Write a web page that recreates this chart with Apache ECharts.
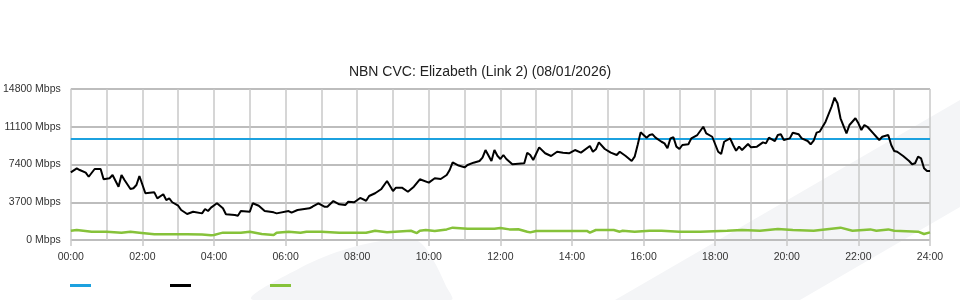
<!DOCTYPE html>
<html>
<head>
<meta charset="utf-8">
<script src="https://cdn.jsdelivr.net/npm/echarts@6/dist/echarts.min.js"></script>
<style>html,body{margin:0;padding:0;background:#fff}#c{width:960px;height:300px}</style>
</head>
<body>
<div id="c"></div>
<script>
const chartTitle = 'NBN CVC: Elizabeth (Link 2) (08/01/2026)';
const hourTicks = ['00:00','02:00','04:00','06:00','08:00','10:00','12:00','14:00','16:00','18:00','20:00','22:00','24:00'];
const capacityTimes = ['00:00','24:00'];
const capacityValues = [9900, 9900];
const trafficTimes = ['00:00','00:10','00:15','00:25','00:30','00:40','00:50','00:55','01:05','01:10','01:20','01:25','01:30','01:40','01:45','01:50','01:55','02:05','02:20','02:25','02:35','02:40','02:45','02:50','03:00','03:05','03:15','03:25','03:40','03:45','03:50','03:55','04:05','04:15','04:20','04:35','04:40','04:45','05:00','05:05','05:15','05:25','05:40','05:45','06:05','06:10','06:20','06:40','06:45','06:55','07:05','07:10','07:20','07:30','07:40','07:45','07:55','08:05','08:15','08:20','08:30','08:40','08:50','09:00','09:05','09:15','09:25','09:35','09:45','10:00','10:10','10:20','10:30','10:35','10:40','10:50','11:00','11:05','11:15','11:25','11:30','11:35','11:45','11:50','11:55','12:00','12:05','12:10','12:20','12:40','12:45','12:50','12:55','13:05','13:15','13:25','13:35','13:45','13:55','14:05','14:15','14:30','14:35','14:40','14:45','14:55','15:05','15:15','15:20','15:30','15:40','15:45','15:50','15:55','16:05','16:10','16:15','16:20','16:30','16:35','16:40','16:45','16:50','16:55','17:00','17:05','17:15','17:20','17:30','17:40','17:45','17:55','18:05','18:10','18:15','18:25','18:30','18:35','18:40','18:45','18:55','19:00','19:10','19:20','19:25','19:30','19:40','19:45','19:50','19:55','20:05','20:10','20:20','20:25','20:35','20:40','20:45','20:50','20:55','21:00','21:05','21:15','21:20','21:25','21:30','21:40','21:45','21:55','22:00','22:05','22:10','22:15','22:25','22:30','22:35','22:40','22:50','22:55','23:00','23:05','23:15','23:25','23:30','23:35','23:40','23:45','23:50','23:55','24:00'];
const trafficValues = [6630,7020,6860,6600,6200,6960,6960,5950,6050,6370,5220,6370,5880,5000,5070,5390,6270,4580,4670,4080,4480,3920,4080,3700,3360,2940,2550,2770,2610,3040,2840,3170,3600,3110,2520,2450,2380,2840,2770,3600,3360,2840,2710,2610,2840,2680,2940,3110,3260,3600,3260,3260,3820,3500,3420,3750,3700,4120,3850,4310,4580,4970,5780,4800,5130,5130,4730,5220,5950,5620,6050,5980,6370,6860,7610,7300,7120,7350,7580,7740,8070,8820,7740,8820,8260,7940,8330,7940,7420,7520,8560,8330,7840,9080,8500,8230,8650,8560,8500,8820,8560,9210,8650,8890,9570,8920,8560,8330,8650,8230,7740,8170,9310,10550,10030,10290,10360,10030,9630,9470,8990,9960,10070,9150,8920,9310,9380,9960,10290,11100,10450,10120,8650,8430,9630,9960,9310,8750,9150,8820,9410,9080,9150,9570,9470,10030,9700,10290,10360,9800,9960,10520,10360,9960,9700,9380,9730,10520,10620,11100,11600,13060,13950,13400,11930,10450,11270,11930,11440,10780,11270,11100,10450,10120,9800,10120,10290,9310,8720,8650,8230,7740,7420,7520,8170,8000,7030,6760,6760];
const outTimes = ['00:00','00:10','00:35','01:00','01:25','01:40','01:55','02:20','02:55','03:15','03:40','03:55','04:00','04:10','04:15','04:45','05:00','05:20','05:40','05:45','06:05','06:25','06:35','07:00','07:30','08:15','08:30','08:50','09:30','09:40','09:45','09:55','10:10','10:30','10:40','11:05','11:50','12:00','12:15','12:30','12:45','12:50','13:00','13:50','14:25','14:30','14:40','15:10','15:20','15:25','15:45','16:10','16:30','17:00','17:35','18:20','18:45','19:15','19:45','20:10','20:45','21:30','21:50','22:20','22:30','22:50','23:00','23:40','23:50','24:00'];
const outValues = [910,980,815,815,720,815,720,560,560,560,540,460,490,650,720,720,815,590,490,720,815,720,815,800,720,720,910,750,910,680,910,980,880,1040,1210,1100,1100,1180,1040,1060,815,750,890,880,890,730,980,980,815,910,815,910,900,815,815,910,980,910,1080,980,910,1210,910,1040,910,1040,910,815,590,750];
const seriesNames = ['Capacity','Inbound','Outbound'];
const seriesColors = ['#1ca1df','#000000','#86c23a'];

const toHours = t => { const p = t.split(':').map(Number); return p[0] + p[1] / 60; };
const pairs = (ts, vs) => ts.map((t, i) => [toHours(t), vs[i]]);

const chart = echarts.init(document.getElementById('c'), null, {renderer: 'canvas'});
const gridColor = '#c9c9c9';
chart.setOption({
  animation: false,
  textStyle: {fontFamily: 'Liberation Sans, Arial, sans-serif'},
  title: {
    text: chartTitle, left: 'center', top: 60,
    textStyle: {fontSize: 14, fontWeight: 'normal', color: '#222'}
  },
  graphic: [
    {type: 'polygon', z: -10, silent: true, shape: {points: [[615,300],[960,100],[960,207],[800,300]]}, style: {fill: '#f4f5f7'}},
    {type: 'polygon', z: -10, silent: true, shape: {smooth: 0.35, points: [[253,300],[300,268],[350,248],[398,239],[418,241],[432,258],[446,286],[451,300]]}, style: {fill: '#f4f5f7'}}
  ],
  legend: seriesNames.map((n, i) => ({
    left: 70 + i * 100, top: 284, padding: 0, data: [n], icon: 'rect', itemWidth: 21, itemHeight: 3,
    formatter: () => '', selectedMode: false
  })),
  grid: {left: 70, right: 30, top: 89, bottom: 60, containLabel: false},
  xAxis: {
    type: 'value', min: 0, max: 24, interval: 2,
    axisLine: {show: false},
    axisTick: {show: true, length: 6, lineStyle: {color: gridColor, width: 1.5}},
    axisLabel: {color: '#333', fontSize: 10.5, margin: 12,
      formatter: v => hourTicks[v / 2]},
    splitLine: {show: true, lineStyle: {color: gridColor, width: 1.5}},
    minorTick: {show: false, splitNumber: 2},
    minorSplitLine: {show: true, lineStyle: {color: gridColor, width: 1.5}}
  },
  yAxis: {
    type: 'value', min: 0, max: 14800, interval: 3700,
    axisLine: {show: false}, axisTick: {show: false},
    axisLabel: {color: '#333', fontSize: 10.5, margin: 10, formatter: v => v + ' Mbps'},
    splitLine: {show: true, lineStyle: {color: '#bdbdbd', width: 2}}
  },
  series: [
    {name: seriesNames[0], type: 'line', symbol: 'none', color: seriesColors[0], lineStyle: {width: 2}, data: pairs(capacityTimes, capacityValues), z: 3},
    {name: seriesNames[1], type: 'line', symbol: 'none', color: seriesColors[1], lineStyle: {width: 2}, data: pairs(trafficTimes, trafficValues), z: 4},
    {name: seriesNames[2], type: 'line', symbol: 'none', color: seriesColors[2], lineStyle: {width: 2.5}, data: pairs(outTimes, outValues), z: 2}
  ]
});
</script>
</body>
</html>
